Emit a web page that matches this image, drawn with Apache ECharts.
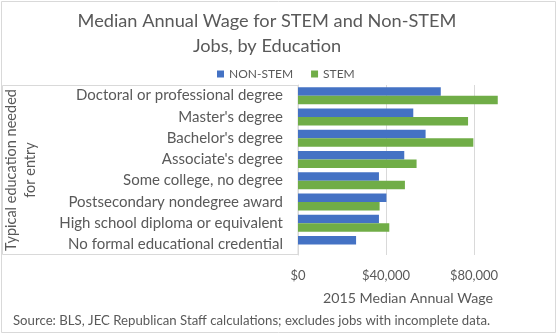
<!DOCTYPE html>
<html>
<head>
<meta charset="utf-8">
<script src="https://cdn.jsdelivr.net/npm/echarts@6/dist/echarts.min.js"></script>
<style>
html,body{margin:0;padding:0;background:#fff;}
#c{width:558px;height:335px;}
</style>
</head>
<body>
<div id="c"></div>
<script>
var categories = [
  "Doctoral or professional degree",
  "Master's degree",
  "Bachelor's degree",
  "Associate's degree",
  "Some college, no degree",
  "Postsecondary nondegree award",
  "High school diploma or equivalent",
  "No formal educational credential"
];
var nonStem = [64900, 52400, 58000, 48300, 36800, 40200, 36800, 26400];
var stem = [90800, 77300, 79700, 53900, 48600, 37100, 41500, null];
var xTicks = { min: 0, max: 100000, interval: 40000 };

var FONT = 'Lato';
var GRAY = '#595959';
var chart = echarts.init(document.getElementById('c'), null, {renderer: 'canvas'});
chart.setOption({
  backgroundColor: '#fff',
  animation: false,
  title: {
    text: 'Median Annual Wage for STEM and Non-STEM\nJobs, by Education',
    left: 262, top: 4, textAlign: 'center',
    textStyle: {fontFamily: FONT, fontSize: 18.2, fontWeight: 'normal', color: GRAY, lineHeight: 25}
  },
  legend: {
    top: 63, left: 212,
    icon: 'rect', itemWidth: 7, itemHeight: 7, itemGap: 18,
    textStyle: {fontFamily: FONT, fontSize: 12, color: GRAY},
    data: ['NON-STEM', 'STEM']
  },
  grid: {left: 298, right: 40, top: 85, bottom: 80, containLabel: false},
  xAxis: {
    type: 'value', min: xTicks.min, max: xTicks.max, interval: xTicks.interval,
    name: '2015 Median Annual Wage', nameLocation: 'middle', nameGap: 36,
    nameTextStyle: {fontFamily: FONT, fontSize: 14.2, color: GRAY},
    axisLine: {show: false}, axisTick: {show: false},
    axisLabel: {fontFamily: FONT, fontSize: 13, color: GRAY, margin: 14, showMaxLabel: false,
      formatter: function(v){ return '$' + v.toLocaleString('en-US'); }},
    splitLine: {show: true, showMinLine: false, showMaxLine: false, lineStyle: {color: '#d9d9d9', width: 1}}
  },
  yAxis: {
    type: 'category', data: categories, inverse: true,
    name: 'Typical education needed\nfor entry', nameLocation: 'middle', nameGap: 258, nameRotate: 90,
    nameTextStyle: {fontFamily: FONT, fontSize: 14.5, color: GRAY, lineHeight: 19},
    axisLine: {show: true, lineStyle: {color: '#d9d9d9'}}, axisTick: {show: false},
    axisLabel: {fontFamily: FONT, fontSize: 15, color: GRAY, margin: 15}
  },
  series: [
    {name: 'NON-STEM', type: 'bar', data: nonStem, barGap: '0%', barCategoryGap: '20%',
      itemStyle: {color: '#4472C4'}},
    {name: 'STEM', type: 'bar', data: stem, barGap: '0%', barCategoryGap: '20%',
      itemStyle: {color: '#70AD47'}}
  ],
  graphic: [
    {type: 'rect', shape: {x: 1.5, y: 1.5, width: 554, height: 331}, style: {fill: null, stroke: '#d9d9d9', lineWidth: 1}, silent: true, z: -1},
    {type: 'rect', shape: {x: 2.5, y: 85.5, width: 295.5, height: 169}, style: {fill: null, stroke: '#d9d9d9', lineWidth: 1}, silent: true, z: -1},
    {type: 'text', left: 13, top: 314, style: {text: 'Source: BLS, JEC Republican Staff calculations; excludes jobs with incomplete data.', fontFamily: FONT, fontSize: 13.2, fill: GRAY}}
  ]
});
</script>
</body>
</html>
